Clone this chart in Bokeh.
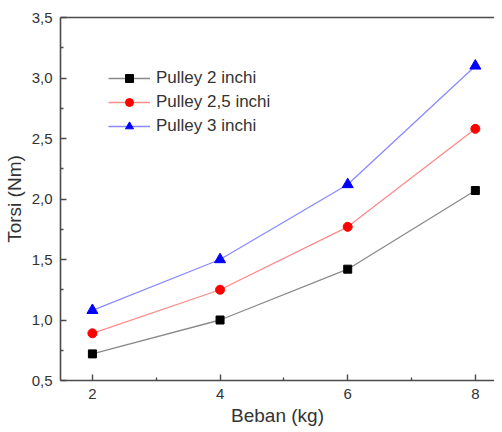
from bokeh.plotting import figure
from bokeh.models import FixedTicker, LinearAxis, Range1d, Legend, LegendItem
from bokeh.embed import file_html
from bokeh.resources import INLINE

beban = [2, 4, 6, 8]
pulley_2 = [0.72, 1.00, 1.42, 2.07]
pulley_25 = [0.89, 1.25, 1.77, 2.58]
pulley_3 = [1.08, 1.50, 2.12, 3.10]
series_names = ["Pulley 2 inchi", "Pulley 2,5 inchi", "Pulley 3 inchi"]
y_ticks = [0.5, 1.0, 1.5, 2.0, 2.5, 3.0, 3.5]
y_tick_labels = ["0,5", "1,0", "1,5", "2,0", "2,5", "3,0", "3,5"]
y_minor = [0.75, 1.25, 1.75, 2.25, 2.75, 3.25]
x_ticks = [2, 4, 6, 8]
x_minor = [3, 5, 7]

FONT = "Liberation Sans"
AX = "#4a4a4a"

p = figure(width=494, height=432, output_backend="svg", toolbar_location=None,
           x_range=Range1d(1.5, 8.30), y_range=Range1d(0.5, 3.5),
           min_border_left=56, min_border_right=0, min_border_bottom=52,
           x_axis_label="Beban (kg)", y_axis_label="Torsi (Nm)")
p.outline_line_color = None
p.grid.visible = False
p.background_fill_color = "white"
p.border_fill_color = "white"

p.xaxis.ticker = FixedTicker(ticks=x_ticks, minor_ticks=x_minor)
p.yaxis.ticker = FixedTicker(ticks=y_ticks, minor_ticks=y_minor)
p.yaxis.major_label_overrides = {t: l for t, l in zip(y_ticks, y_tick_labels)}

for ax in (p.xaxis[0], p.yaxis[0]):
    ax.axis_line_color = AX
    ax.axis_line_width = 1.6
    ax.major_tick_line_color = AX
    ax.minor_tick_line_color = AX
    ax.major_tick_line_width = 1.4
    ax.minor_tick_line_width = 1.4
    ax.major_tick_in = 6
    ax.major_tick_out = 0
    ax.minor_tick_in = 3
    ax.minor_tick_out = 0
    ax.major_label_text_font = FONT
    ax.major_label_text_font_size = "15px"
    ax.major_label_text_color = "#333333"
    ax.axis_label_text_font = FONT
    ax.axis_label_text_font_size = "19px"
    ax.axis_label_text_font_style = "normal"
    ax.axis_label_text_color = "#333333"
p.xaxis.major_label_standoff = 8
p.yaxis.major_label_standoff = 8
p.xaxis.axis_label_standoff = 3
p.yaxis.axis_label_standoff = 4

top = LinearAxis(ticker=FixedTicker(ticks=[]), axis_line_color=AX, axis_line_width=1.6,
                 major_tick_in=0, major_tick_out=0, minor_tick_in=0, minor_tick_out=0,
                 major_label_text_font_size="0px", major_label_standoff=0)
p.add_layout(top, "above")
p.min_border_top = 17

specs = [
    (pulley_2, "#8a8a8a", "black", "square", 8),
    (pulley_25, "#ff8a8a", "red", "circle", 9),
    (pulley_3, "#8a8aff", "blue", "triangle", 11),
]
items = []
for (vals, lc, mc, mk, sz), name in zip(specs, series_names):
    l = p.line(beban, vals, line_color=lc, line_width=1.3)
    s = p.scatter(beban, vals, marker=mk, size=sz, fill_color=mc, line_color=mc)
    items.append(LegendItem(label=name, renderers=[l, s]))

legend = Legend(items=items, location=(48, 244), border_line_color=None,
                background_fill_alpha=0, label_text_font=FONT, label_text_font_size="17px",
                label_text_color="#333333", glyph_width=42, glyph_height=20, label_height=20,
                label_standoff=6, spacing=4, padding=6, margin=0)
p.add_layout(legend, "center")

open("out.html", "w").write(file_html(p, INLINE))
